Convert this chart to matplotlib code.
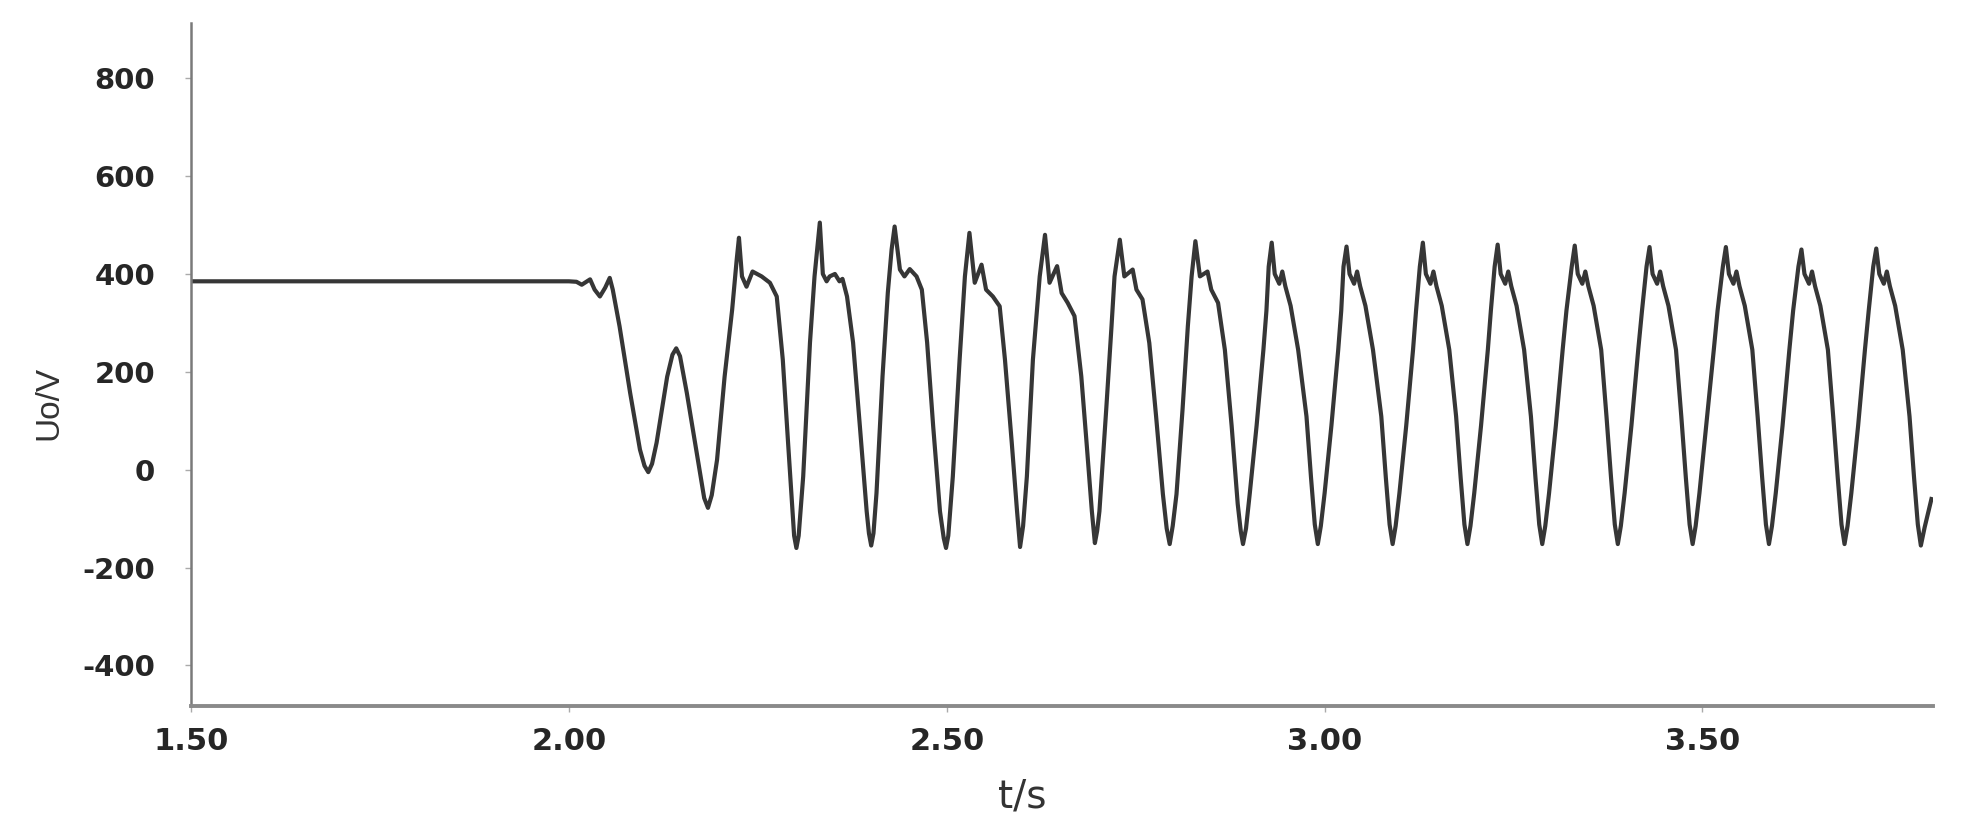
import matplotlib
matplotlib.use("Agg")
import matplotlib.pyplot as plt
from matplotlib.ticker import FormatStrFormatter

plt.rcParams["axes.unicode_minus"] = False

# waveform vertices (t in s, Uo in V)
t_s = [
    1.500, 2.000, 2.010, 2.017, 2.028, 2.034, 2.041, 2.048, 2.054, 2.058,
    2.067, 2.081, 2.094, 2.100, 2.105, 2.110, 2.116, 2.130, 2.137, 2.142, 2.147,
    2.156, 2.169, 2.179, 2.184, 2.189, 2.196, 2.206, 2.216, 2.222, 2.225,
    2.229, 2.235, 2.243, 2.255, 2.266, 2.275, 2.283, 2.290, 2.296, 2.298, 2.301, 2.304,
    2.310, 2.319, 2.325, 2.332,
    2.336, 2.341, 2.345, 2.352, 2.358, 2.362, 2.368, 2.376, 2.385, 2.394, 2.397, 2.400, 2.403,
    2.407, 2.415, 2.422, 2.427, 2.431,
    2.438, 2.444, 2.451, 2.460, 2.467, 2.474, 2.482, 2.491, 2.496, 2.499, 2.502,
    2.508, 2.517, 2.524, 2.530,
    2.537, 2.546, 2.552, 2.561, 2.570, 2.577, 2.586, 2.593, 2.597, 2.601,
    2.606, 2.614, 2.623, 2.630,
    2.636, 2.646, 2.652, 2.660, 2.669, 2.678, 2.685, 2.692, 2.696, 2.699,
    2.702, 2.711, 2.718, 2.722, 2.729,
    2.735, 2.746, 2.751, 2.759, 2.768, 2.777, 2.786, 2.791, 2.795, 2.799,
    2.804, 2.812, 2.819, 2.824, 2.829,
    2.835, 2.845, 2.850, 2.859, 2.868, 2.877, 2.885, 2.889, 2.892, 2.896,
    2.901, 2.910, 2.919, 2.923, 2.926, 2.930,
    2.934, 2.940, 2.944, 2.948, 2.955, 2.965, 2.976, 2.982, 2.987, 2.991,
    2.995, 3.000, 3.009, 3.018, 3.022, 3.025, 3.029,
    3.033, 3.039, 3.043, 3.047, 3.054, 3.064, 3.075, 3.081, 3.086, 3.090,
    3.094, 3.099, 3.108, 3.117, 3.121, 3.126, 3.130,
    3.134, 3.140, 3.144, 3.148, 3.155, 3.165, 3.174, 3.180, 3.185, 3.189,
    3.193, 3.198, 3.207, 3.216, 3.220, 3.225, 3.229,
    3.233, 3.239, 3.243, 3.247, 3.254, 3.264, 3.273, 3.279, 3.284, 3.288,
    3.292, 3.297, 3.306, 3.315, 3.320, 3.327, 3.331,
    3.335, 3.341, 3.345, 3.349, 3.356, 3.366, 3.373, 3.379, 3.384, 3.388,
    3.392, 3.397, 3.406, 3.415, 3.420, 3.426, 3.430,
    3.434, 3.440, 3.444, 3.448, 3.455, 3.465, 3.472, 3.478, 3.483, 3.487,
    3.491, 3.496, 3.505, 3.515, 3.520, 3.527, 3.531,
    3.535, 3.541, 3.545, 3.549, 3.556, 3.566, 3.573, 3.579, 3.584, 3.588,
    3.592, 3.597, 3.606, 3.615, 3.620, 3.627, 3.631,
    3.635, 3.641, 3.645, 3.649, 3.656, 3.666, 3.673, 3.679, 3.684, 3.688,
    3.692, 3.697, 3.706, 3.715, 3.720, 3.726, 3.730,
    3.734, 3.740, 3.744, 3.748, 3.755, 3.765, 3.774, 3.780, 3.785, 3.789,
    3.794, 3.803,
]
u_v = [
    385, 385, 384, 378, 389, 368, 354, 372, 392, 368,
    293, 157, 41, 8, -5, 12, 55, 190, 235, 248, 232,
    157, 35, -58, -78, -52, 20, 190, 327, 429, 474,
    395, 374, 405, 395, 382, 354, 225, 55, -85, -135, -160, -135,
    -14, 260, 395, 505,
    400, 385, 395, 400, 385, 390, 354, 260, 89, -85, -130, -155, -130,
    -48, 191, 362, 450, 497,
    409, 395, 410, 395, 368, 260, 89, -85, -140, -160, -135,
    -14, 225, 395, 484,
    382, 419, 368, 354, 334, 225, 55, -85, -158, -115,
    -14, 225, 395, 480,
    382, 416, 361, 341, 314, 191, 55, -85, -150, -125,
    -85, 123, 293, 395, 470,
    395, 409, 368, 348, 259, 109, -50, -120, -152, -115,
    -50, 123, 293, 395, 467,
    395, 405, 368, 341, 245, 89, -70, -125, -152, -120,
    -48, 90, 245, 325, 415, 464,
    400, 380, 405, 375, 335, 245, 109, -16, -112, -152,
    -115, -48, 90, 245, 325, 415, 456,
    400, 380, 405, 375, 335, 245, 109, -16, -112, -152,
    -115, -48, 90, 245, 325, 415, 464,
    400, 380, 405, 375, 335, 245, 109, -16, -112, -152,
    -115, -48, 90, 245, 325, 415, 460,
    400, 380, 405, 375, 335, 245, 109, -16, -112, -152,
    -115, -48, 90, 245, 325, 415, 458,
    400, 380, 405, 375, 335, 245, 109, -16, -112, -152,
    -115, -48, 90, 245, 325, 415, 455,
    400, 380, 405, 375, 335, 245, 109, -16, -112, -152,
    -115, -48, 90, 245, 325, 415, 455,
    400, 380, 405, 375, 335, 245, 109, -16, -112, -152,
    -115, -48, 90, 245, 325, 415, 450,
    400, 380, 405, 375, 335, 245, 109, -16, -112, -152,
    -115, -48, 90, 245, 325, 415, 452,
    400, 380, 405, 375, 335, 245, 109, -16, -112, -155,
    -118, -60,
]

x_ticks = [1.5, 2.0, 2.5, 3.0, 3.5]
y_ticks = [-400, -200, 0, 200, 400, 600, 800]

fig = plt.figure(figsize=(19.74, 8.38), dpi=100)
ax = fig.add_axes([0.0968, 0.1575, 0.8824, 0.8151])

ax.plot(t_s, u_v, color="#363636", lw=3.0, solid_joinstyle="round")

ax.set_xlim(1.5, 3.805)
ax.set_ylim(-483, 913)
ax.set_xticks(x_ticks)
ax.set_yticks(y_ticks)
ax.xaxis.set_major_formatter(FormatStrFormatter("%.2f"))

for side in ["top", "right"]:
    ax.spines[side].set_visible(False)
ax.spines["left"].set_color("#7a7a7a")
ax.spines["left"].set_linewidth(1.8)
ax.spines["bottom"].set_color("#8a8a8a")
ax.spines["bottom"].set_linewidth(2.8)

ax.tick_params(axis="both", direction="out", length=4, width=1.0, color="#aaaaaa",
               labelcolor="#262626")
ax.tick_params(axis="y", pad=22)
ax.tick_params(axis="x", pad=11)
for lab in ax.get_yticklabels():
    lab.set_fontfamily("DejaVu Sans")
    lab.set_fontweight("bold")
    lab.set_fontsize(21)
for lab in ax.get_xticklabels():
    lab.set_fontfamily("DejaVu Sans")
    lab.set_fontweight("bold")
    lab.set_fontsize(22)

ax.set_xlabel("t/s", fontsize=28, family="DejaVu Sans", color="#333333")
ax.set_ylabel("Uo/V", fontsize=24, family="Liberation Sans", color="#333333")
ax.xaxis.set_label_coords(0.477, -0.105)
ax.yaxis.set_label_coords(-0.073, 0.444)

fig.savefig("out.png", dpi=100, facecolor="white")
